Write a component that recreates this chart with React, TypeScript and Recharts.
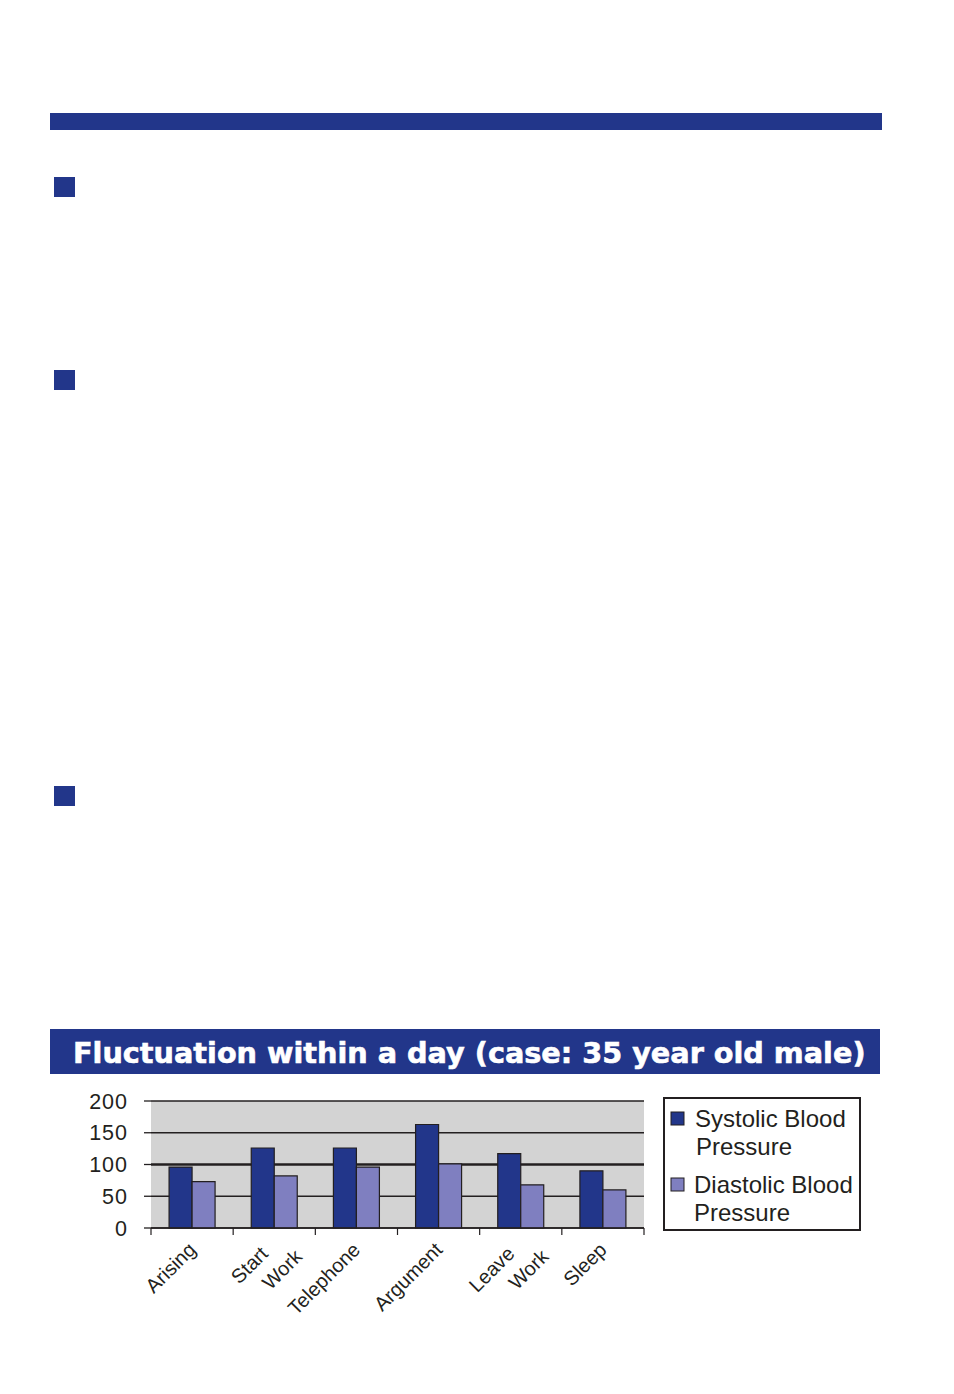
import React from 'react';
import { Bar, BarChart, CartesianGrid, Legend, XAxis, YAxis } from 'recharts';

// Readings through the day (mmHg)
const categories = ['Arising', 'Start Work', 'Telephone', 'Argument', 'Leave Work', 'Sleep'];
const systolic = [96, 126, 126, 163, 117, 90];
const diastolic = [73, 82, 96, 101, 68, 60];
const yTicks = [0, 50, 100, 150, 200];
const seriesNames = ['Systolic Blood Pressure', 'Diastolic Blood Pressure'];
const titleText = 'Fluctuation within a day (case: 35 year old male)';

const NAVY = '#22368a';
const LILAC = '#7f7fc0';
const INK = '#231f20';
const FONT = '"Liberation Sans", Arial, Helvetica, sans-serif';

const chartData = categories.map((name, i) => ({
  name,
  systolic: systolic[i],
  diastolic: diastolic[i],
}));

// grid: the 100 line is drawn heavier than the rest
const GridLine = (props: any) => {
  const { x1, x2, y1, y2, index } = props;
  return (
    <line
      key={`h-${index}`}
      x1={x1}
      x2={x2}
      y1={y1}
      y2={y2}
      stroke={INK}
      strokeWidth={index === 2 ? 2.6 : 1.3}
    />
  );
};

const CategoryTick = (props: any) => {
  const { x, y, payload, index } = props;
  const axisY = y - 6;
  const half = payload && payload.offset ? payload.offset : 41.1;
  const lines = String(payload.value).split(' ');
  return (
    <g>
      <line x1={x - half} x2={x - half} y1={axisY} y2={axisY + 7} stroke={INK} strokeWidth={1.2} />
      {index === categories.length - 1 && (
        <line x1={x + half} x2={x + half} y1={axisY} y2={axisY + 7} stroke={INK} strokeWidth={1.2} />
      )}
      {lines.map((ln, i) => {
        const ax = lines.length === 1 ? x + 5 : i === 0 ? x - 5 : x + 29;
        const ay = axisY + (lines.length === 1 ? 23 : i === 0 ? 27 : 30);
        return (
          <text
            key={ln}
            x={ax}
            y={ay}
            transform={`rotate(-45 ${ax} ${ay})`}
            textAnchor="end"
            fontSize={20}
            fontFamily={FONT}
            fill={INK}
          >
            {ln}
          </text>
        );
      })}
    </g>
  );
};

const LegendBox = (props: any) => {
  const payload = [...(props.payload || [])].sort(
    (a: any, b: any) => seriesNames.indexOf(a.value) - seriesNames.indexOf(b.value)
  );
  return (
    <svg width={198} height={134}>
      <rect x={1} y={1} width={196} height={132} fill="#fff" stroke={INK} strokeWidth={2} />
      {payload.map((entry: any, i: number) => {
        const parts = String(entry.value).split(' ');
        const first = parts.slice(0, -1).join(' ');
        const second = parts[parts.length - 1];
        const top = i * 66;
        return (
          <g key={entry.value}>
            <rect x={8} y={top + 15} width={13} height={13} fill={entry.color} stroke={INK} strokeWidth={1} />
            <text x={i === 0 ? 32 : 31} y={top + 30} fontSize={24} fontFamily={FONT} fill={INK}>
              {first}
            </text>
            <text x={i === 0 ? 33 : 31} y={top + 58} fontSize={24} fontFamily={FONT} fill={INK}>
              {second}
            </text>
          </g>
        );
      })}
    </svg>
  );
};

const App = () => {
  return (
    <div
      style={{
        position: 'absolute',
        left: 0,
        top: 0,
        width: 954,
        height: 1394,
        background: '#fff',
        overflow: 'hidden',
      }}
    >
      <div style={{ position: 'absolute', left: 50, top: 113, width: 832, height: 17, background: NAVY }} />
      <div style={{ position: 'absolute', left: 54, top: 177, width: 21, height: 20, background: NAVY }} />
      <div style={{ position: 'absolute', left: 54, top: 370, width: 21, height: 20, background: NAVY }} />
      <div style={{ position: 'absolute', left: 54, top: 786, width: 21, height: 20, background: NAVY }} />

      <div style={{ position: 'absolute', left: 50, top: 1029, width: 830, height: 45, background: NAVY }}>
        <svg width={830} height={45}>
          <text
            x={23}
            y={34}
            fill="#fff"
            fontSize={28.7}
            fontWeight="bold"
            fontFamily='"DejaVu Sans", sans-serif'
            stroke="#fff"
            strokeWidth={0.6}
          >
            {titleText}
          </text>
        </svg>
      </div>

      <div style={{ position: 'absolute', left: 0, top: 1080 }}>
        <BarChart
          width={880}
          height={260}
          data={chartData}
          margin={{ top: 21, right: 236, left: 0, bottom: 12 }}
          barCategoryGap="22%"
          barGap={0}
        >
          <CartesianGrid vertical={false} fill="#d3d3d3" fillOpacity={1} horizontal={GridLine} />
          <XAxis
            dataKey="name"
            height={100}
            interval={0}
            axisLine={{ stroke: INK, strokeWidth: 1.3 }}
            tickLine={false}
            tickSize={6}
            tickMargin={0}
            tick={<CategoryTick />}
          />
          <YAxis
            type="number"
            domain={[0, 200]}
            ticks={yTicks}
            width={151}
            axisLine={false}
            tickLine={{ stroke: INK, strokeWidth: 1.3 }}
            tickSize={7}
            tickMargin={16}
            tick={{ fontSize: 21.5, fill: INK, fontFamily: FONT, letterSpacing: 1 }}
          />
          <Legend
            layout="vertical"
            align="center"
            verticalAlign="middle"
            content={<LegendBox />}
            wrapperStyle={{ left: 663, top: 17, width: 198, height: 134 }}
          />
          <Bar
            dataKey="systolic"
            name={seriesNames[0]}
            fill={NAVY}
            stroke={INK}
            strokeWidth={1.2}
            isAnimationActive={false}
          />
          <Bar
            dataKey="diastolic"
            name={seriesNames[1]}
            fill={LILAC}
            stroke={INK}
            strokeWidth={1.2}
            isAnimationActive={false}
          />
        </BarChart>
      </div>
    </div>
  );
};

export default App;
